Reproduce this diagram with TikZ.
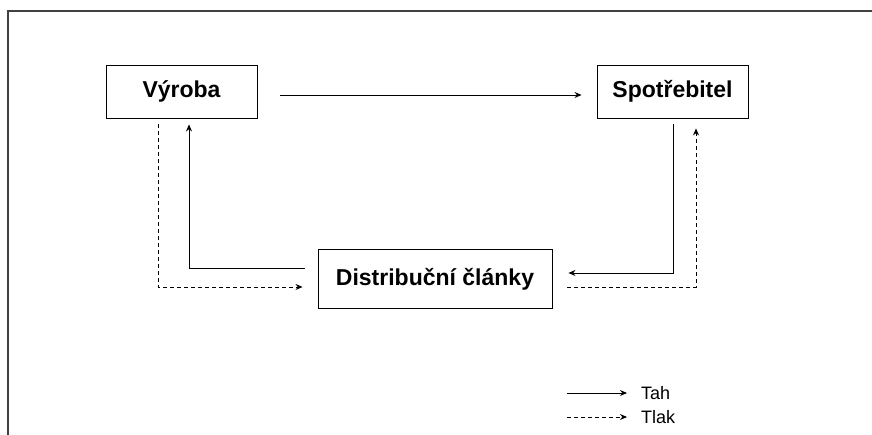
\documentclass[tikz,border=0pt]{standalone}
\usepackage{fontspec}
\setmainfont{Liberation Sans}
\usetikzlibrary{arrows.meta, positioning, calc}

\begin{document}
\begin{tikzpicture}[
    x=1pt, y=1pt,
    box/.style={rectangle, draw=black, line width=0.9pt, minimum height=53pt, inner sep=0pt, font=\bfseries\fontsize{23}{27}\selectfont},
    tah/.style={line width=0.9pt, -{Stealth[length=7pt,width=6pt]}},
    tlak/.style={tah, dash pattern=on 4pt off 3pt},
    legend/.style={anchor=west, inner sep=0pt, font=\fontsize{18}{21}\selectfont}
]
\useasboundingbox (0,0) rectangle (872,435);

% Frame
\draw[line width=1.3pt, black!75] (8,0) -- (8,424) -- (872,424);

% Boxes
\node[box, minimum width=151pt] (vyroba) at (181.5,343.5) {Výroba};
\node[box, minimum width=151pt] (spotrebitel) at (672.5,343.5) {Spotřebitel};
\node[box, minimum width=234pt, minimum height=59pt] (distrib) at (435,156) {Distribuční články};

% Connections
\draw[tah] ([xshift=23pt,yshift=-3.5pt]vyroba.east) -- ([xshift=-15pt,yshift=-3.5pt]spotrebitel.west);
\draw[tah] ([xshift=-13pt,yshift=11pt]distrib.west) -| ([xshift=7.5pt,yshift=-6pt]vyroba.south);
\draw[tlak] ([xshift=-23.5pt,yshift=-6pt]vyroba.south) |- ([xshift=-15pt,yshift=-8pt]distrib.west);
\draw[tah] ([xshift=0.5pt,yshift=-6pt]spotrebitel.south) |- ([xshift=16pt,yshift=6pt]distrib.east);
\draw[tlak] ([xshift=15pt,yshift=-8pt]distrib.east) -| ([xshift=23.5pt,yshift=-10pt]spotrebitel.south);

% Legend
\node[legend] (tahlbl) at (641,42) {Tah};
\node[legend] (tlaklbl) at (641,18) {Tlak};
\coordinate (tahstart) at (567,42);
\coordinate (tlakstart) at (567,18);
\draw[tah] (tahstart) -- ([xshift=-14pt]tahlbl.west);
\draw[tlak] (tlakstart) -- ([xshift=-14pt]tlaklbl.west);

\end{tikzpicture}
\end{document}
